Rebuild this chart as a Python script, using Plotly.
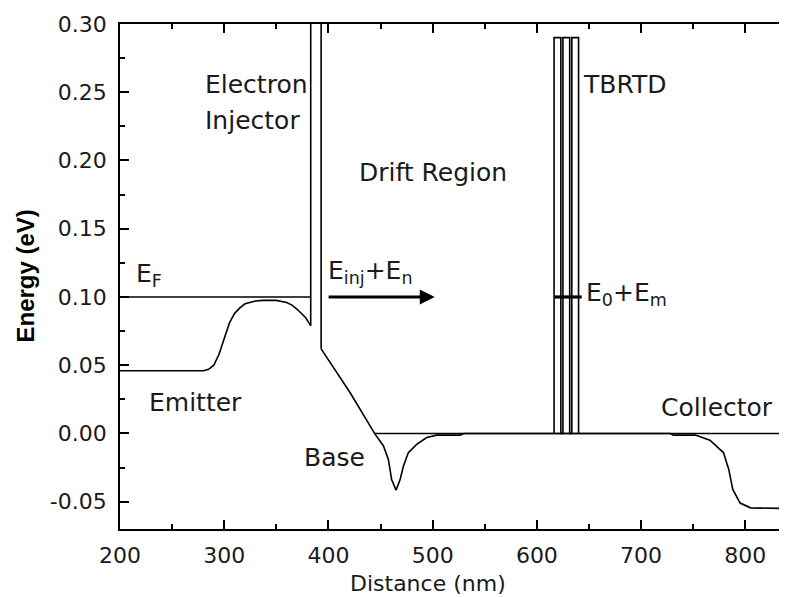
import plotly.graph_objects as go

# ---- data (nm, eV) ----
emitter_x = [200, 280, 285, 290, 295, 300, 305, 310, 315, 320, 330, 337, 350, 360, 365, 370, 373, 378, 383]
emitter_y = [0.046, 0.046, 0.047, 0.050, 0.058, 0.070, 0.081, 0.088, 0.092, 0.095, 0.097, 0.0975, 0.0975, 0.096, 0.094, 0.091, 0.089, 0.085, 0.079]

injector_x = [383, 383, 393, 393]
injector_y = [0.079, 0.35, 0.35, 0.062]

band_x = [393, 420.7, 444.7, 452.7, 457.5, 460.7, 464.9, 468.7, 471.9, 476.7, 484.7, 494.3, 503.9, 526.3, 530,
          728, 731, 752, 766, 772, 779, 784, 788, 795, 805, 840]
band_y = [0.062, 0.030, -0.0005, -0.009, -0.019, -0.034, -0.0415, -0.034, -0.024, -0.014, -0.008, -0.003, -0.0012, -0.0012, 0.0,
          0.0, -0.0012, -0.0012, -0.005, -0.009, -0.014, -0.026, -0.041, -0.051, -0.0545, -0.055]

fermi_x = [200, 383]
fermi_y = [0.10, 0.10]

zero_x = [444.7, 840]
zero_y = [0.0, 0.0]

tbrtd_x = [616.5, 616.5, 623, 623, 625, 625, 631.5, 631.5, 633.5, 633.5, 640, 640]
tbrtd_y = [0.0, 0.29, 0.29, 0.0, 0.0, 0.29, 0.29, 0.0, 0.0, 0.29, 0.29, 0.0]

level_x = [617, 643]
level_y = [0.10, 0.10]

arrow_tail = (398.7, 0.10)
arrow_head = (502, 0.10)

x_ticks = [200, 300, 400, 500, 600, 700, 800]
y_ticks = [-0.05, 0.00, 0.05, 0.10, 0.15, 0.20, 0.25, 0.30]

labels = [
    ("Electron", 279.5, 0.2557),
    ("Injector", 279.5, 0.2292),
    ("Drift Region", 427.0, 0.1909),
    ("TBRTD", 642.5, 0.2557),
    ("Emitter", 226.0, 0.0228),
    ("Base", 374.5, -0.0177),
    ("Collector", 717.5, 0.0192),
    ("E<sub>F</sub>", 213.5, 0.116),
    ("E<sub>inj</sub>+E<sub>n</sub>", 398.0, 0.118),
    ("E<sub>0</sub>+E<sub>m</sub>", 645.5, 0.102),
]

FONT = "DejaVu Sans, Verdana, sans-serif"
BOLD_FONT = "Liberation Sans, Arial, sans-serif"
TXT = "#1a1a1a"
LW = 1.6

fig = go.Figure()
for xs, ys, w in [(emitter_x, emitter_y, LW), (injector_x, injector_y, LW), (band_x, band_y, LW),
                  (fermi_x, fermi_y, LW), (zero_x, zero_y, LW), (tbrtd_x, tbrtd_y, LW),
                  (level_x, level_y, 3.2)]:
    fig.add_trace(go.Scatter(x=xs, y=ys, mode="lines", line=dict(color="black", width=w),
                             showlegend=False, hoverinfo="skip"))

fig.add_annotation(x=arrow_head[0], y=arrow_head[1], ax=arrow_tail[0], ay=arrow_tail[1],
                   xref="x", yref="y", axref="x", ayref="y", text="", showarrow=True,
                   arrowhead=2, arrowsize=1, arrowwidth=3, arrowcolor="black")

for txt, x, y in labels:
    fig.add_annotation(x=x, y=y, xref="x", yref="y", text=txt, showarrow=False,
                       xanchor="left", yanchor="middle",
                       font=dict(family=FONT, size=25, color=TXT))

fig.add_annotation(x=496, y=-0.107, xref="x", yref="paper", text="Distance (nm)", showarrow=False,
                   xanchor="center", yanchor="middle", font=dict(family=FONT, size=22, color=TXT))
fig.add_annotation(x=-0.1424, y=0.5, xref="paper", yref="paper", text="<b>Energy (eV)</b>",
                   textangle=-90, showarrow=False, xanchor="center", yanchor="middle",
                   font=dict(family=BOLD_FONT, size=24, color="black"))

# page body has an 8px margin; compensate so the plot lands where the reference has it
fig.update_layout(
    width=779, height=589,
    margin=dict(l=112, r=0, t=16, b=68, autoexpand=False),
    paper_bgcolor="white", plot_bgcolor="white",
    font=dict(family=FONT, size=22, color=TXT),
)
fig.update_xaxes(range=[200, 840], tickvals=x_ticks, ticktext=[str(v) for v in x_ticks],
                 ticks="inside", ticklen=9, tickwidth=1.5, tickcolor="black",
                 minor=dict(dtick=50, tick0=200, ticks="inside", ticklen=5, tickwidth=1.5, tickcolor="black"),
                 showline=True, linecolor="black", linewidth=1.6, mirror="ticks",
                 showgrid=False, zeroline=False, ticklabelstandoff=6, automargin=False,
                 tickfont=dict(family=FONT, size=22, color=TXT))
fig.update_yaxes(range=[-0.07, 0.30], tickvals=y_ticks, ticktext=["%.2f" % v for v in y_ticks],
                 ticks="inside", ticklen=9, tickwidth=1.5, tickcolor="black",
                 minor=dict(dtick=0.025, tick0=0, ticks="inside", ticklen=5, tickwidth=1.5, tickcolor="black"),
                 showline=True, linecolor="black", linewidth=1.6,
                 showgrid=False, zeroline=False, ticklabelstandoff=7, automargin=False,
                 tickfont=dict(family=FONT, size=22, color=TXT))

fig.write_html("out.html")
